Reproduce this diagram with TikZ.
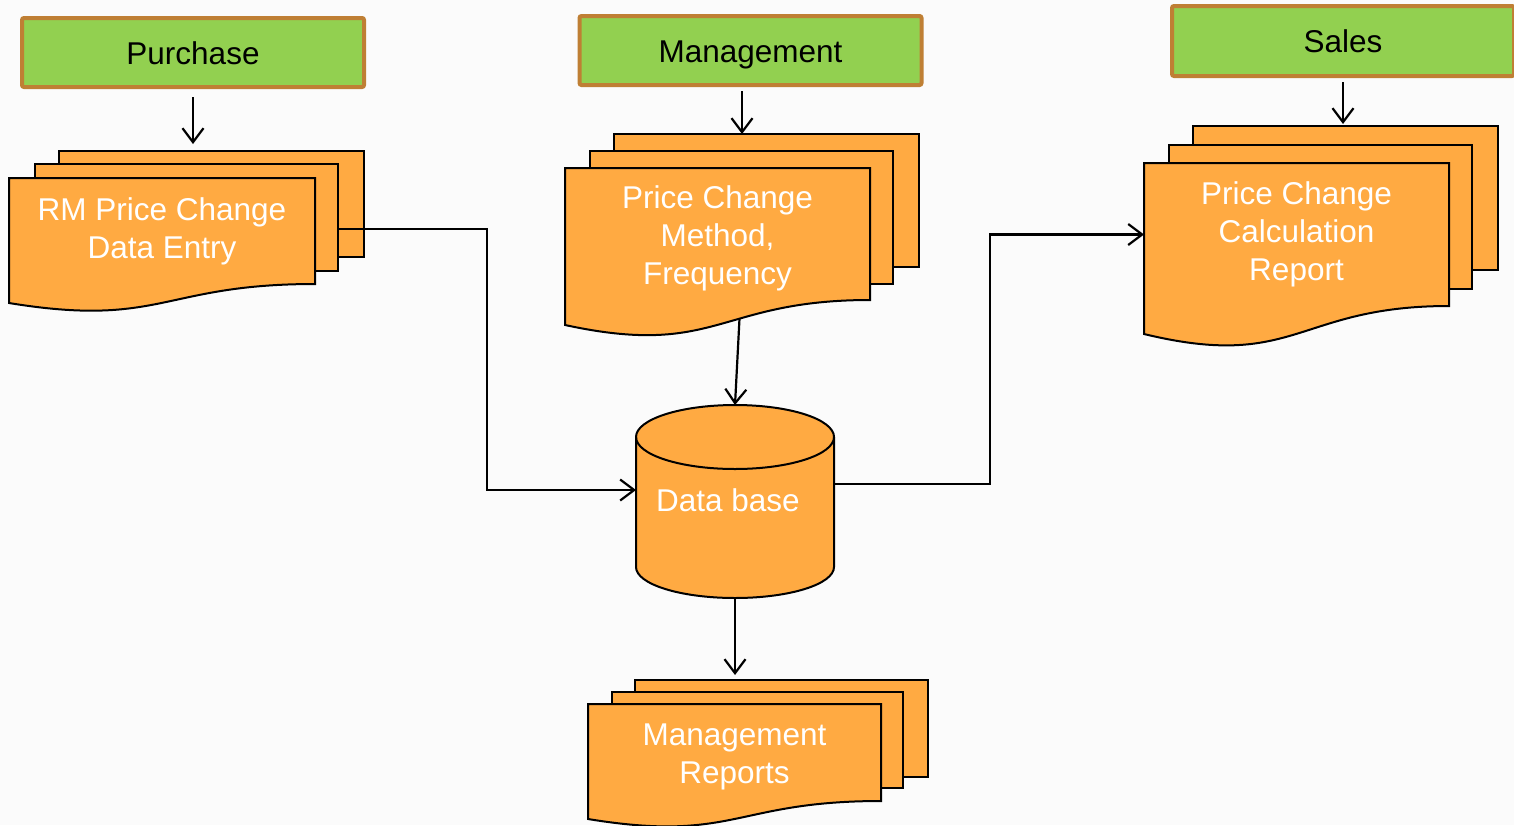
\documentclass[tikz,border=0pt]{standalone}
\usepackage{fontspec}
\setmainfont{Liberation Sans}
\usetikzlibrary{arrows.meta}

\definecolor{deptgreen}{RGB}{146,208,80}
\definecolor{deptbrown}{RGB}{191,127,52}
\definecolor{docorange}{RGB}{255,170,66}
\definecolor{bgwhite}{RGB}{251,251,251}

\tikzset{
  dept/.style={rectangle, rounded corners=2pt, draw=deptbrown, line width=4pt, fill=deptgreen,
    minimum width=342pt, minimum height=69pt, inner sep=0pt, text height=24pt, text depth=0.4pt,
    font=\fontsize{31.5}{38}\selectfont},
  page/.style={draw=black, line width=2pt, fill=docorange},
  pagebox/.style={page, rectangle, inner sep=0pt, outer sep=0pt, minimum width=305pt, anchor=north west},
  doctext/.style={rectangle, inner sep=0pt, outer sep=0pt, minimum width=305pt, anchor=north west,
    text=white, align=center, font=\fontsize{31.5}{38}\selectfont},
  arr/.style={draw=black, line width=2.2pt, -{Straight Barb[length=14pt,width=21pt]}},
}

\begin{document}
\begin{tikzpicture}[x=1pt,y=-1pt]

  \fill[bgwhite] (0,0) rectangle (1514,825);
  \useasboundingbox (0,0) rectangle (1514,825);

  % departments
  \node[dept] (purch) at (193,52.5)  {Purchase};
  \node[dept] (mgmt)  at (750.5,50.5) {Management};
  \node[dept, minimum height=70pt] (sales) at (1343,41) {Sales};

  % RM price change stack
  \node[pagebox, minimum height=106pt] (rmC) at (59,151) {};
  \node[pagebox, minimum height=107pt, minimum width=303pt] (rmB) at (35,164) {};
  \draw[page] (9,178) -- (315,178) -- (315,284) .. controls (162,284) and (162,328) .. (9,303) -- cycle;
  \node[doctext, minimum width=306pt, minimum height=106pt] (rm) at (9,178) {RM Price Change\\Data Entry};

  % price change method stack
  \node[pagebox, minimum height=133pt] (pmC) at (614,134) {};
  \node[pagebox, minimum height=133pt, minimum width=303pt] (pmB) at (590,151) {};
  \draw[page] (565,168) -- (870,168) -- (870,300) .. controls (717.5,300) and (717.5,358) .. (565,325)
    coordinate[pos=0.405] (pmw) -- cycle;
  \node[doctext, minimum height=132pt, yshift=-4pt] (pm) at (565,168) {Price Change\\Method,\\Frequency};

  % price change calculation stack
  \node[pagebox, minimum height=144pt] (pcC) at (1193,126) {};
  \node[pagebox, minimum height=144pt, minimum width=303pt] (pcB) at (1169,145) {};
  \draw[page] (1144,163) -- (1449,163) -- (1449,306) .. controls (1296.5,306) and (1296.5,371) .. (1144,334) -- cycle;
  \node[doctext, minimum height=143pt] (pc) at (1144,163) {Price Change\\Calculation\\Report};

  % management reports stack
  \node[pagebox, minimum height=97pt, minimum width=293pt] (mrC) at (635,680) {};
  \node[pagebox, minimum height=96pt, minimum width=291pt] (mrB) at (612,692) {};
  \draw[page] (588,704) -- (881,704) -- (881,801) .. controls (734.5,801) and (734.5,843) .. (588,819) -- cycle;
  \node[doctext, minimum height=97pt, minimum width=293pt, yshift=-4pt] (mr) at (588,704) {Management\\Reports};

  % data base
  \draw[page] (636,437) -- (636,567) arc[start angle=180, end angle=360, x radius=99pt, y radius=31pt]
    -- (834,437) arc[start angle=0, end angle=180, x radius=99pt, y radius=32pt] -- cycle;
  \draw[page, fill=none] (636,437) arc[start angle=180, end angle=360, x radius=99pt, y radius=32pt];
  \node[minimum width=198pt, minimum height=193pt, inner sep=0pt, outer sep=0pt] (db) at (735,501.5) {};
  \node[text=white, font=\fontsize{31.5}{38}\selectfont] (dbtext) at (728,500) {Data base};

  % connectors
  \draw[arr, shorten <=8pt, shorten >=7pt] (purch.south) -- (purch.south |- rmC.north);
  \draw[arr, shorten <=4pt] ([xshift=-8.5pt]mgmt.south) -- ([xshift=-8.5pt]mgmt.south |- pmC.north);
  \draw[arr, shorten <=4pt, shorten >=2pt] (sales.south) -- (sales.south |- pcC.north);
  \draw[arr] ([yshift=-65pt]rmB.north east) -- ++(149pt,0) |- ([yshift=11.5pt]db.west);
  \draw[arr] (pmw) -- (db.north);
  \draw[arr] ([yshift=17.5pt]db.east) -- ++(156pt,0) |- (pc.west);
  \draw[arr, shorten >=5pt] (db.south) -- (db.south |- mrC.north);

\end{tikzpicture}
\end{document}
